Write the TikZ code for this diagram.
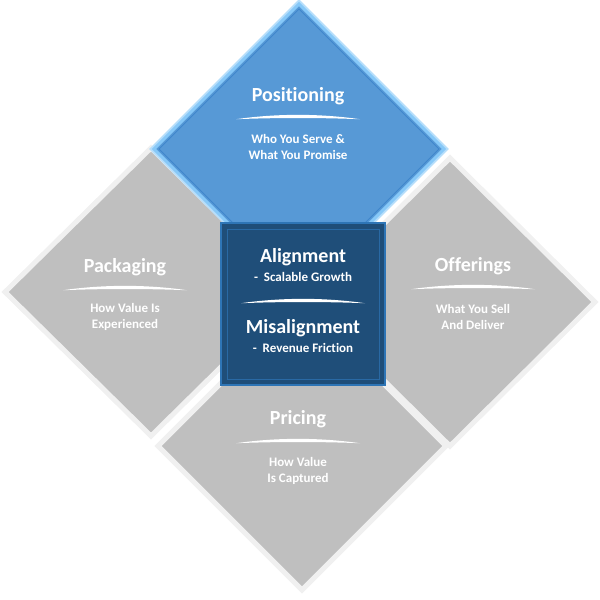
\documentclass[tikz,border=0pt]{standalone}
\usepackage{fontspec}
\setmainfont[Ligatures=NoCommon]{Carlito}
\definecolor{diagray}{HTML}{BFBFBF}
\definecolor{diaedge}{HTML}{F0F0F0}
\definecolor{posblue}{HTML}{5799D6}
\definecolor{posglow}{HTML}{86C8F8}
\definecolor{posline}{HTML}{3F86CC}
\definecolor{ctrblue}{HTML}{1F4E79}
\definecolor{ctredge}{HTML}{2E75B6}
\begin{document}
\begin{tikzpicture}[x=1pt,y=-1pt,
  graydia/.style={fill=diagray, draw=diaedge, line width=5pt, line join=miter},
  ttl/.style={text=white, font=\bfseries\fontsize{20}{22}\selectfont, inner sep=0pt},
  sub/.style={text=white, font=\bfseries\fontsize{13}{16}\selectfont, align=center, inner sep=0pt},
  swoosh/.style={fill=white}
]
\useasboundingbox (0,0) rectangle (600,600);
\newcommand\myswoosh[3]{%
  \fill[swoosh] (#1-#3,#2+1.2) .. controls (#1-#3/3,#2-4.6) and (#1+#3/3,#2-4.6) .. (#1+#3,#2+1.2)
     .. controls (#1+#3/3,#2-0.4) and (#1-#3/3,#2-0.4) .. cycle;}
% Packaging (left)
\draw[graydia] (151,148) -- (5,292) -- (151,436) -- (297,292) -- cycle;
% Offerings (right)
\draw[graydia] (450,158) -- (595,302) -- (450,446) -- (305,302) -- cycle;
% Pricing (bottom)
\draw[graydia] (302,302) -- (446,446) -- (302,590) -- (158,446) -- cycle;
% Positioning (top, blue)
\draw[draw=posglow!60, line width=7pt, line join=miter] (299,4) -- (444,149) -- (299,294) -- (154,149) -- cycle;
\draw[fill=posblue, draw=posglow, line width=3pt, line join=miter] (299,4) -- (444,149) -- (299,294) -- (154,149) -- cycle;
\draw[draw=posline, line width=0.8pt] (299,9) -- (439,149) -- (299,289) -- (159,149) -- cycle;
% Centre square
\draw[fill=ctrblue, draw=ctredge, line width=2.5pt] (221,223) rectangle (385,385);
\draw[draw=ctredge!70!ctrblue, line width=0.8pt] (227,229) rectangle (379,379);
% Texts
\node[ttl] (posT) at (298,96) {Positioning};
\myswoosh{298}{118}{62}
\node[sub] (posS) at (298,147) {Who You Serve \&\\What You Promise};
\node[ttl] (pakT) at (125,267) {Packaging};
\myswoosh{125}{289}{62}
\node[sub] (pakS) at (125,317) {How Value Is\\Experienced};
\node[ttl] (offT) at (473,266) {Offerings};
\myswoosh{473}{288}{62}
\node[sub] (offS) at (473,317) {What You Sell\\And Deliver};
\node[ttl] (priT) at (298,419) {Pricing};
\myswoosh{298}{442}{62}
\node[sub] (priS) at (298,471) {How Value\\Is Captured};
\node[ttl] (alT) at (303,257) {Alignment};
\node[sub] (alS) at (303,277) {-\ \ Scalable Growth};
\myswoosh{303}{302}{62}
\node[ttl] (miT) at (303,328) {Misalignment};
\node[sub] (miS) at (303,348) {-\ \ Revenue Friction};
\end{tikzpicture}
\end{document}
